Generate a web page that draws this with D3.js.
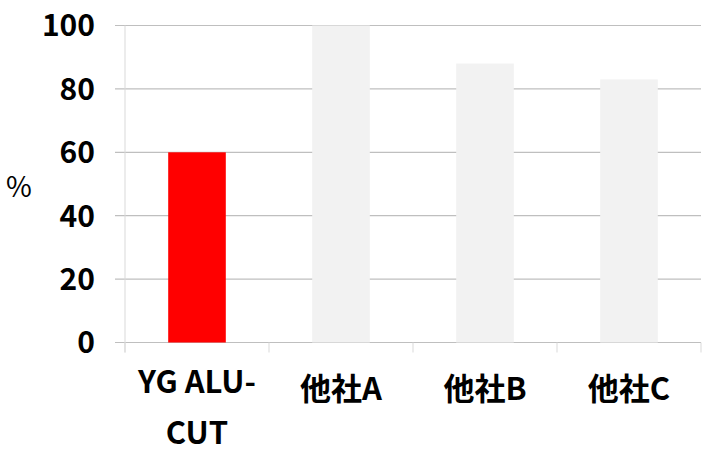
<!DOCTYPE html>
<html>
<head>
<meta charset="utf-8">
<script src="https://cdn.jsdelivr.net/npm/d3@7"></script>
<style>
  body { margin: 0; background: #fff; }
  text { font-family: "Noto Sans CJK JP", "Noto Sans", sans-serif; }
</style>
</head>
<body>
<div id="chart"></div>
<script>
// data
const categories = ["YG ALU-CUT", "他社A", "他社B", "他社C"];
const labelLines = [["YG ALU-", "CUT"], ["他社A"], ["他社B"], ["他社C"]];
const values = [60, 100, 88, 83];
const barColors = ["#ff0000", "#f2f2f2", "#f2f2f2", "#f2f2f2"];
const yTicks = [0, 20, 40, 60, 80, 100];

const width = 714;
const height = 461;
const margin = { top: 25.5, right: 13, bottom: 118.5, left: 125 };

const svg = d3.select("#chart")
    .append("svg")
    .attr("width", width)
    .attr("height", height);

const x = d3.scaleBand()
    .domain(categories)
    .range([margin.left, width - margin.right])
    .paddingInner(0.6)
    .paddingOuter(0.3);

const y = d3.scaleLinear()
    .domain([0, 100])
    .range([height - margin.bottom, margin.top]);

// gridlines (they start left of the axis, like tick marks)
svg.append("g")
    .selectAll("line")
    .data(yTicks)
    .join("line")
    .attr("x1", margin.left - 10)
    .attr("x2", width - margin.right)
    .attr("y1", d => y(d))
    .attr("y2", d => y(d))
    .attr("stroke", "#bfbfbf")
    .attr("stroke-width", 1.2);

// bars
svg.append("g")
    .selectAll("rect")
    .data(values)
    .join("rect")
    .attr("x", (d, i) => x(categories[i]))
    .attr("width", x.bandwidth())
    .attr("y", d => y(d))
    .attr("height", d => y(0) - y(d))
    .attr("fill", (d, i) => barColors[i]);

// y axis line
svg.append("line")
    .attr("x1", margin.left).attr("x2", margin.left)
    .attr("y1", y(100)).attr("y2", y(0) + 10)
    .attr("stroke", "#d9d9d9")
    .attr("stroke-width", 1);

// category ticks at band edges
const step = x.step();
const edges = d3.range(categories.length + 1).map(i => margin.left + i * step);
svg.append("g")
    .selectAll("line")
    .data(edges)
    .join("line")
    .attr("x1", d => d).attr("x2", d => d)
    .attr("y1", y(0)).attr("y2", y(0) + 10)
    .attr("stroke", "#d9d9d9");

// y tick labels
svg.append("g")
    .selectAll("text")
    .data(yTicks)
    .join("text")
    .attr("x", margin.left - 30)
    .attr("y", d => y(d))
    .attr("dy", "0.36em")
    .attr("text-anchor", "end")
    .attr("font-size", 30)
    .attr("font-weight", "bold")
    .attr("fill", "#000")
    .text(d => d);

// category labels
const catLabels = svg.append("g")
    .selectAll("text")
    .data(categories)
    .join("text")
    .attr("text-anchor", "middle")
    .attr("font-size", 31)
    .attr("font-weight", "bold")
    .attr("fill", "#000")
    .attr("transform", d => `translate(${x(d) + x.bandwidth() / 2},0)`);

catLabels.each(function (d, i) {
    const lines = labelLines[i];
    const t = d3.select(this);
    lines.forEach((line, j) => {
        t.append("tspan")
            .attr("x", 0)
            .attr("y", lines.length > 1 ? 393 + j * 50.5 : 400)
            .text(line);
    });
});

// y axis title
svg.append("text")
    .attr("x", 19)
    .attr("y", 187)
    .attr("dy", "0.36em")
    .attr("text-anchor", "middle")
    .attr("font-size", 28)
    .attr("fill", "#000")
    .text("%");
</script>
</body>
</html>
